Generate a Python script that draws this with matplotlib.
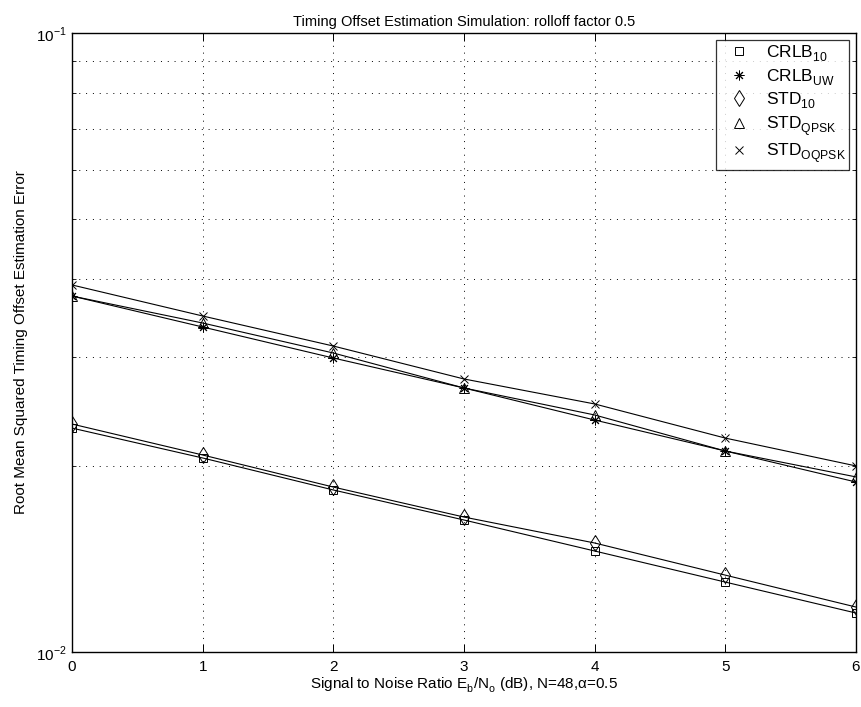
import matplotlib
matplotlib.use("Agg")
import matplotlib.pyplot as plt
from matplotlib.ticker import LogLocator, NullFormatter, FixedLocator

try:
    from matplotlib import _mathtext
    _mathtext.FontConstantsBase.sub1 = 0.55
    _mathtext.FontConstantsBase.sub2 = 0.6
    _mathtext.FontConstantsBase.sup1 = 0.75
except Exception:
    pass

plt.rcParams['font.family'] = ['Liberation Sans', 'DejaVu Sans']
plt.rcParams['mathtext.fontset'] = 'custom'
plt.rcParams['mathtext.rm'] = 'Liberation Sans'
plt.rcParams['mathtext.it'] = 'Liberation Sans:italic'
plt.rcParams['mathtext.bf'] = 'Liberation Sans:bold'

snr = [0, 1, 2, 3, 4, 5, 6]
crlb_10 = [0.02300, 0.02058, 0.01827, 0.01634, 0.01456, 0.01297, 0.01156]
crlb_uw = [0.03759, 0.03350, 0.02985, 0.02670, 0.02370, 0.02112, 0.01882]
std_10 = [0.02335, 0.02081, 0.01847, 0.01652, 0.01500, 0.01331, 0.01182]
std_qpsk = [0.03759, 0.03400, 0.03041, 0.02670, 0.02415, 0.02112, 0.01918]
std_oqpsk = [0.03917, 0.03490, 0.03121, 0.02761, 0.02516, 0.02216, 0.01998]

labels = [r'CRLB$_{\mathrm{10}}$', r'CRLB$_{\mathrm{UW}}$', r'STD$_{\mathrm{10}}$',
          r'STD$_{\mathrm{QPSK}}$', r'STD$_{\mathrm{OQPSK}}$']
title = 'Timing Offset Estimation Simulation: rolloff factor 0.5'
xlabel = r'Signal to Noise Ratio E$_{\mathrm{b}}$/N$_{\mathrm{o}}$ (dB), N=48,α=0.5'
ylabel = 'Root Mean Squared Timing Offset Estimation Error'

series = [crlb_10, crlb_uw, std_10, std_qpsk, std_oqpsk]
markers = ['s', (8, 2, 0), 'd', '^', 'x']
msizes = [6, 7, 8, 7, 6]

fig = plt.figure(figsize=(8.61, 7.07), dpi=100)
ax = fig.add_axes([72/861, 55/707, (856-72)/861, (652-33)/707])

handles = []
for ys, m, ms, lab in zip(series, markers, msizes, labels):
    ax.plot(snr, ys, '-', color='k', lw=0.8)
    h, = ax.plot(snr, ys, linestyle='none', marker=m, ms=ms, mfc='none',
                 mec='k', mew=0.7, label=lab)
    handles.append(h)

ax.set_yscale('log')
ax.set_xlim(0, 6)
ax.set_ylim(1e-2, 1e-1)
ax.xaxis.set_major_locator(FixedLocator(snr))
ax.yaxis.set_major_locator(LogLocator(base=10, numticks=5))
ax.yaxis.set_minor_locator(LogLocator(base=10, subs=range(2, 10), numticks=20))
ax.yaxis.set_minor_formatter(NullFormatter())

ax.grid(True, which='major', axis='x', linestyle=(0, (1, 6)), color='k', lw=0.7)
ax.grid(True, which='both', axis='y', linestyle=(0, (1, 6)), color='k', lw=0.7)

ax.tick_params(which='both', direction='in', top=True, right=True, labelsize=11,
               colors='k')
ax.tick_params(axis='x', pad=6)
ax.tick_params(which='major', length=6, width=0.7)
ax.tick_params(which='minor', length=3, width=0.6)
for s in ax.spines.values():
    s.set_linewidth(1.0)

ax.set_title(title, fontsize=10.5, pad=5)
ax.set_xlabel(xlabel, fontsize=11, labelpad=1)
ax.set_ylabel(ylabel, fontsize=11, labelpad=6)

leg = ax.legend(handles=handles, loc='upper right', fontsize=12.5,
                frameon=True, fancybox=False, edgecolor='k',
                borderaxespad=0.4, handlelength=2.2, labelspacing=0.15,
                borderpad=0.2, handletextpad=0.45)
leg.get_frame().set_linewidth(0.9)

fig.savefig('out.png', dpi=100, facecolor='white')
